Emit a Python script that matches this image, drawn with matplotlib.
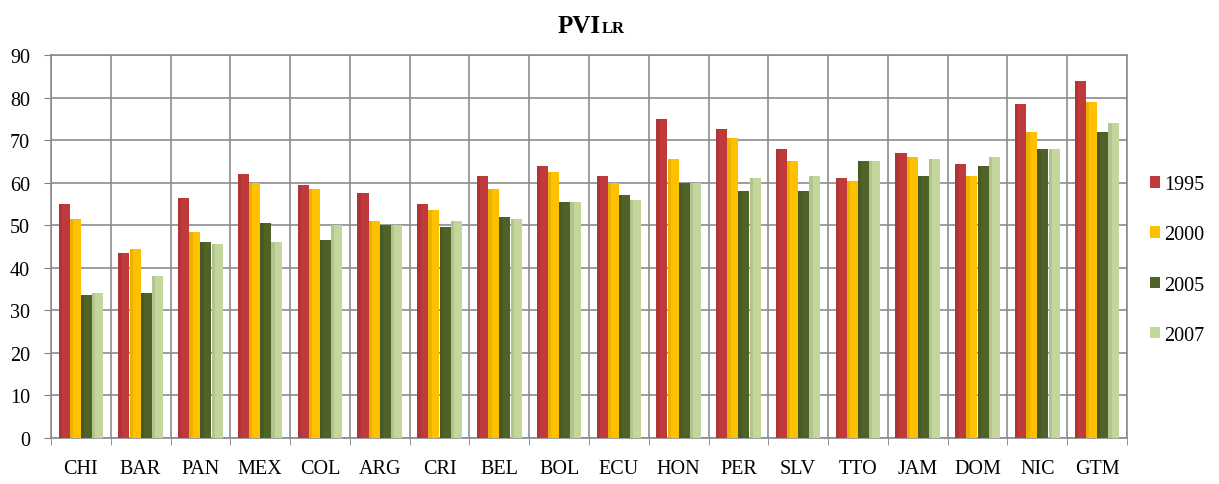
import numpy as np
import matplotlib.pyplot as plt

# Datos
paises = ['CHI', 'BAR', 'PAN', 'MEX', 'COL', 'ARG', 'CRI', 'BEL', 'BOL',
          'ECU', 'HON', 'PER', 'SLV', 'TTO', 'JAM', 'DOM', 'NIC', 'GTM']
anios = ['1995', '2000', '2005', '2007']
v1995 = [55.0, 43.5, 56.5, 62.0, 59.5, 57.5, 55.0, 61.5, 64.0,
         61.5, 75.0, 72.5, 68.0, 61.0, 67.0, 64.5, 78.5, 84.0]
v2000 = [51.5, 44.5, 48.5, 60.0, 58.5, 51.0, 53.5, 58.5, 62.5,
         60.0, 65.5, 70.5, 65.0, 60.5, 66.0, 61.5, 72.0, 79.0]
v2005 = [33.5, 34.0, 46.0, 50.5, 46.5, 50.0, 49.5, 52.0, 55.5,
         57.0, 60.0, 58.0, 58.0, 65.0, 61.5, 64.0, 68.0, 72.0]
v2007 = [34.0, 38.0, 45.5, 46.0, 50.0, 50.0, 51.0, 51.5, 55.5,
         56.0, 60.0, 61.0, 61.5, 65.0, 65.5, 66.0, 68.0, 74.0]
colores = ['#C0393B', '#FFC000', '#4F6228', '#C3D69B']

plt.rcParams['font.family'] = ['Liberation Serif', 'DejaVu Serif']

fig = plt.figure(figsize=(12.19, 4.85), dpi=100)
ax = fig.add_axes([0.0418, 0.0948, 0.8827, 0.7897])

x = np.arange(len(paises))
ancho = 0.185
offsets = [-0.28, -0.093, 0.093, 0.28]
series = [v1995, v2000, v2005, v2007]
for vals, off, col, lab in zip(series, offsets, colores, anios):
    ax.bar(x + off, vals, width=ancho, color=col, label=lab, zorder=3,
           edgecolor='none')
    # ligero sombreado en el borde izquierdo
    ax.bar(x + off - ancho * 0.35, vals, width=ancho * 0.3, color='black',
           alpha=0.08, zorder=4, edgecolor='none')

ax.set_ylim(0, 90)
ax.set_xlim(-0.5, len(paises) - 0.5)
ax.set_yticks(np.arange(0, 91, 10))
ax.set_xticks(x)
ax.set_xticklabels(paises)
ax.set_xticks(np.arange(-0.5, len(paises), 1), minor=True)
ax.tick_params(axis='x', which='major', length=0, pad=15, labelsize=14.5)
ax.tick_params(axis='x', which='minor', length=5, color='#808080')
ax.tick_params(axis='y', length=5, pad=10, color='#808080', labelsize=14.5)
ax.grid(axis='y', color='#8C8C8C', linewidth=1.2, zorder=0)
ax.grid(axis='x', which='minor', color='#8C8C8C', linewidth=1.2, zorder=0)
for s in ax.spines.values():
    s.set_color('#8C8C8C')
    s.set_linewidth(1.2)

fig.text(0.493, 0.932, 'PVI', fontsize=18, fontweight='bold', ha='right',
         va='baseline')
fig.text(0.494, 0.932, 'LR', fontsize=12, fontweight='bold', ha='left',
         va='baseline')

fig.legend(loc='center left', bbox_to_anchor=(0.943, 0.462), frameon=False,
           fontsize=14.5, handlelength=0.5, handleheight=0.5,
           labelspacing=1.55, handletextpad=0.25, borderpad=0,
           borderaxespad=0)

fig.savefig('out.png', dpi=100)
